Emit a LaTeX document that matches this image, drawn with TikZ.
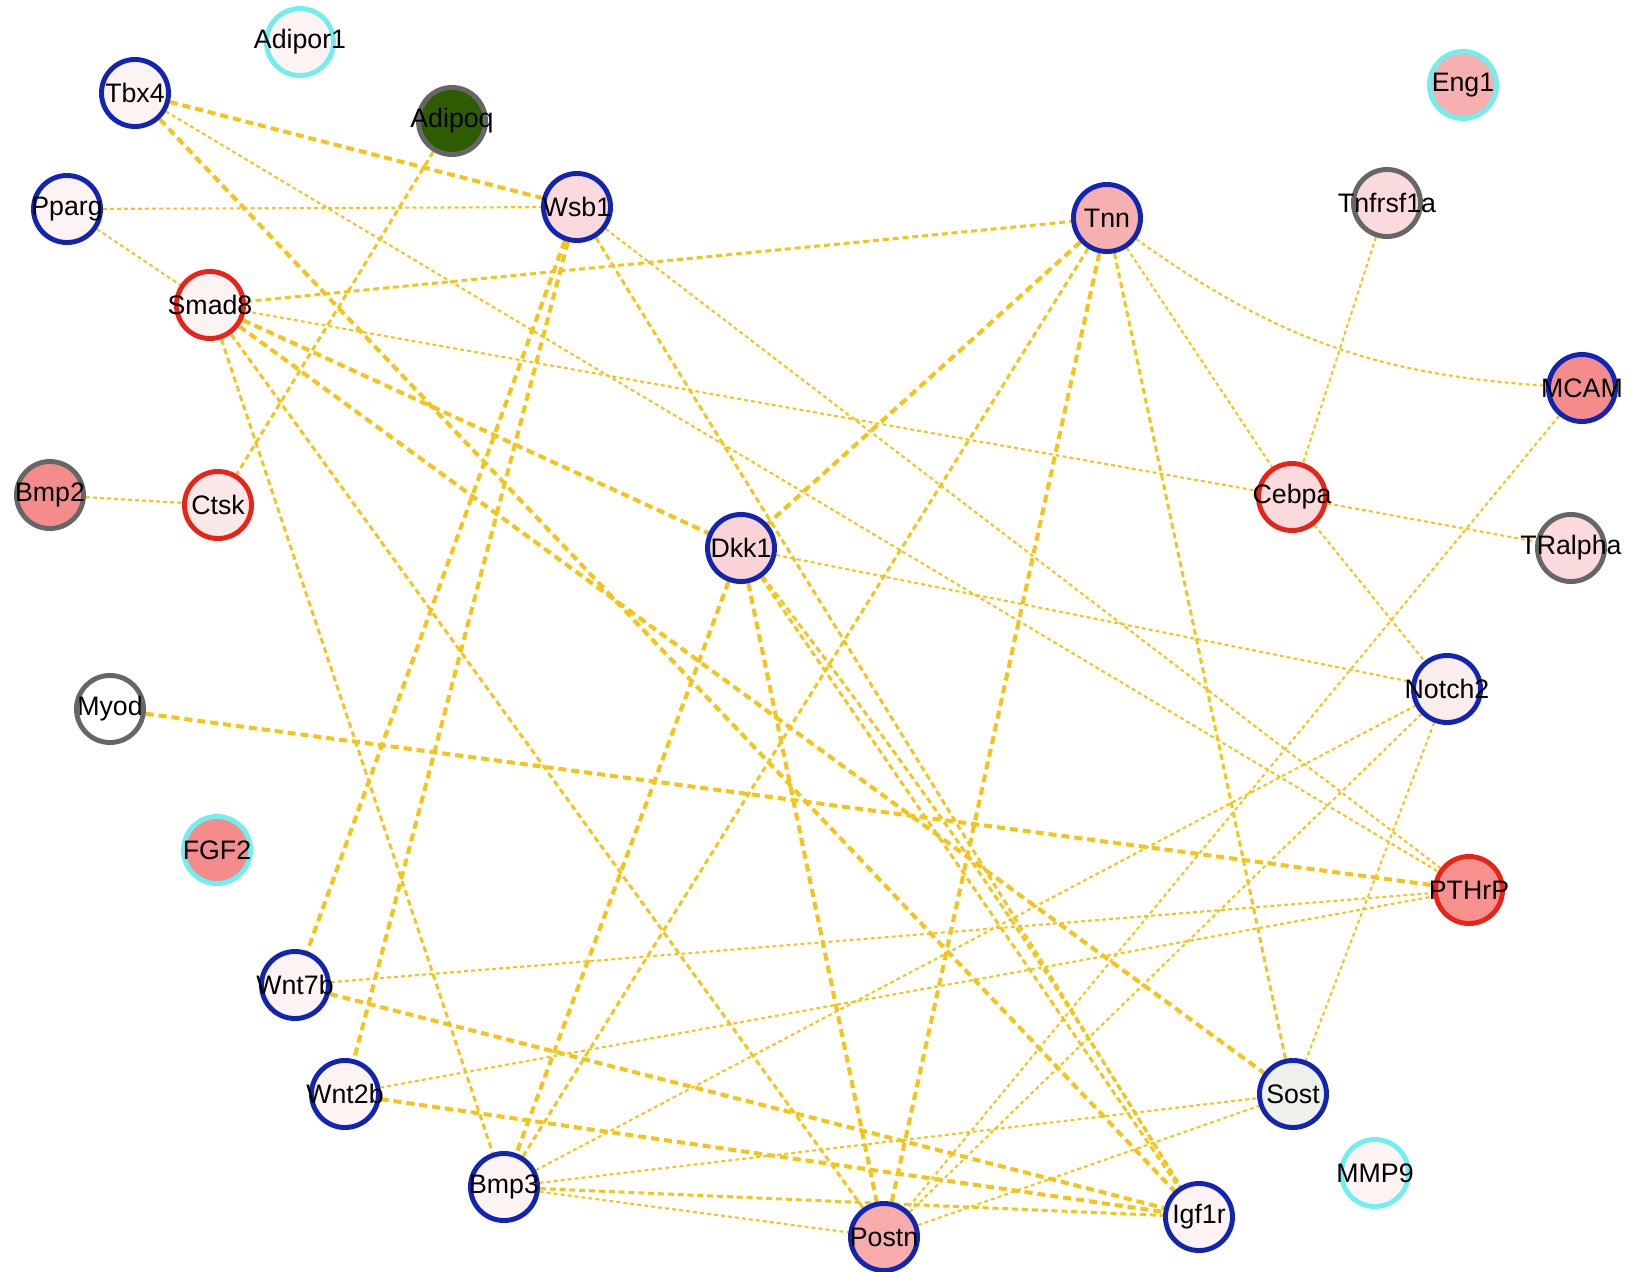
\documentclass[tikz,border=0pt]{standalone}
\usepackage{fontspec}
\setmainfont{Liberation Sans}
\usetikzlibrary{backgrounds}
\definecolor{gold}{RGB}{246,196,24}
\definecolor{bbl}{RGB}{18,36,178}
\definecolor{brd}{RGB}{232,36,24}
\definecolor{bgy}{RGB}{102,102,102}
\definecolor{bcy}{RGB}{112,238,240}
\definecolor{fpale}{RGB}{253,243,243}
\definecolor{flight}{RGB}{250,218,220}
\definecolor{fmid}{RGB}{247,176,176}
\definecolor{fsal}{RGB}{245,140,140}
\definecolor{fgreen}{RGB}{46,92,2}
\definecolor{fgray}{RGB}{238,240,236}
\tikzset{
  gene/.style={circle, line width=1.4pt, minimum size=0.67cm, inner sep=0pt,
    label={[font=\fontsize{7.6}{8}\selectfont, inner sep=0pt]center:#1}},
  bl/.style={draw=bbl}, rd/.style={draw=brd}, gy/.style={draw=bgy}, cy/.style={draw=bcy},
  ethin/.style={draw=gold, line width=0.6pt, dash pattern=on 1.1pt off 0.9pt},
  emid/.style={draw=gold, line width=0.85pt, dash pattern=on 1.7pt off 1.1pt},
  ethick/.style={draw=gold, line width=1.15pt, dash pattern=on 2.3pt off 1.4pt},
}
\begin{document}
\begin{tikzpicture}[x=0.01cm, y=-0.01cm]
\useasboundingbox (0,0) rectangle (1626,1272);
% nodes
\node[gene=Adipor1, cy, fill=fpale] (adipor1) at (300,42) {};
\node[gene=Tbx4, bl, fill=fpale] (tbx4) at (135,93) {};
\node[gene=Adipoq, gy, fill=fgreen] (adipoq) at (452,121) {};
\node[gene=Pparg, bl, fill=fpale] (pparg) at (67,209) {};
\node[gene=Wsb1, bl, fill=flight] (wsb1) at (577,207) {};
\node[gene=Smad8, rd, fill=fpale] (smad8) at (210,305) {};
\node[gene=Tnn, bl, fill=fmid] (tnn) at (1107,218) {};
\node[gene=Tnfrsf1a, gy, fill=flight] (tnf) at (1387,203) {};
\node[gene=Eng1, cy, fill=fmid] (eng1) at (1463,85) {};
\node[gene=MCAM, bl, fill=fsal] (mcam) at (1582,388) {};
\node[gene=Bmp2, gy, fill=fsal] (bmp2) at (50,495) {};
\node[gene=Ctsk, rd, fill={rgb,255:red,251;green,232;blue,232}] (ctsk) at (218,505) {};
\node[gene=Dkk1, bl, fill={rgb,255:red,249;green,211;blue,214}] (dkk1) at (741,548) {};
\node[gene=Cebpa, rd, fill=flight] (cebpa) at (1292,497) {};
\node[gene=TRalpha, gy, fill=flight] (tralpha) at (1571,548) {};
\node[gene=Myod, gy, fill=white] (myod) at (110,709) {};
\node[gene=Notch2, bl, fill={rgb,255:red,252;green,237;blue,237}] (notch2) at (1447,689) {};
\node[gene=FGF2, cy, fill=fsal] (fgf2) at (217,850) {};
\node[gene=PTHrP, rd, fill={rgb,255:red,247;green,145;blue,142}] (pthrp) at (1469,890) {};
\node[gene=Wnt7b, bl, fill=fpale] (wnt7b) at (295,985) {};
\node[gene=Wnt2b, bl, fill=fpale] (wnt2b) at (345,1094) {};
\node[gene=Sost, bl, fill=fgray] (sost) at (1293,1094) {};
\node[gene=MMP9, cy, fill=fpale] (mmp9) at (1375,1173) {};
\node[gene=Bmp3, bl, fill=fpale] (bmp3) at (504,1187) {};
\node[gene=Igf1r, bl, fill=fpale] (igf1r) at (1199,1217) {};
\node[gene=Postn, bl, fill={rgb,255:red,247;green,171;blue,171}] (postn) at (884,1237) {};
% edges
\begin{pgfonlayer}{background}
\draw[ethick] (tbx4) -- (wsb1);
\draw[ethin] (tbx4) -- (pthrp);
\draw[ethick] (tbx4) -- (igf1r);
\draw[ethin] (pparg) -- (wsb1);
\draw[ethin] (pparg) -- (smad8);
\draw[emid] (adipoq) -- (ctsk);
\draw[ethin] (bmp2) -- (ctsk);
\draw[emid] (smad8) -- (tnn);
\draw[ethin] (smad8) -- (cebpa);
\draw[ethick] (smad8) -- (dkk1);
\draw[ethick] (smad8) -- (sost);
\draw[emid] (smad8) -- (bmp3);
\draw[emid] (smad8) -- (postn);
\draw[ethick] (wsb1) -- (wnt7b);
\draw[ethick] (wsb1) -- (wnt2b);
\draw[emid] (wsb1) -- (igf1r);
\draw[ethin] (wsb1) -- (pthrp);
\draw[ethick] (tnn) -- (dkk1);
\draw[emid] (tnn) -- (bmp3);
\draw[ethick] (tnn) -- (postn);
\draw[emid] (tnn) -- (sost);
\draw[ethin] (tnn) -- (cebpa);
\draw[ethin] (tnn) to[bend right=16] (mcam);
\draw[ethin] (tnf) -- (cebpa);
\draw[ethin] (cebpa) -- (tralpha);
\draw[ethin] (cebpa) -- (notch2);
\draw[ethin] (mcam) -- (postn);
\draw[ethin] (dkk1) -- (notch2);
\draw[ethick] (dkk1) -- (bmp3);
\draw[ethick] (dkk1) -- (postn);
\draw[emid] (dkk1) -- (igf1r);
\draw[emid] (dkk1) to[bend left=3] (igf1r);
\draw[ethick] (myod) -- (pthrp);
\draw[ethin] (wnt7b) -- (pthrp);
\draw[ethick] (wnt7b) -- (igf1r);
\draw[ethin] (wnt2b) -- (pthrp);
\draw[ethick] (wnt2b) -- (igf1r);
\draw[ethin] (bmp3) -- (notch2);
\draw[emid] (bmp3) -- (igf1r);
\draw[ethin] (bmp3) -- (postn);
\draw[ethin] (bmp3) -- (sost);
\draw[ethin] (postn) -- (notch2);
\draw[ethin] (postn) -- (sost);
\draw[ethin] (notch2) -- (sost);
\end{pgfonlayer}
\end{tikzpicture}
\end{document}
